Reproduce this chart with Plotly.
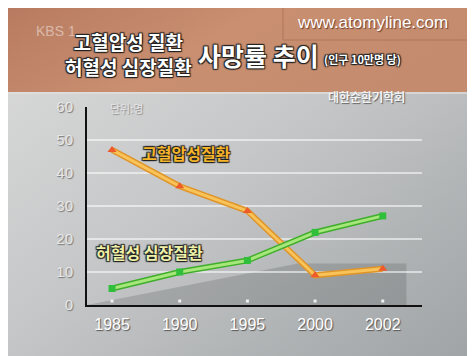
import base64
import plotly.graph_objects as go

# ---- data ----
years = ["1985", "1990", "1995", "2000", "2002"]
hypertension = [47, 36, 28.5, 9, 11]      # 고혈압성질환
ischemic = [5, 10, 13.5, 22, 27]          # 허혈성 심장질환
y_ticks = [0, 10, 20, 30, 40, 50, 60]

W, H = 475, 356
L, R, T, B = 79, 414, 99, 297  # plot area in pixels
PW, PH = R - L, B - T


def px(x, y):
    return (x - L) / PW, (B - y) / PH


# background as svg image
svg = f'''<svg xmlns="http://www.w3.org/2000/svg" width="{W}" height="{H}" viewBox="0 0 {W} {H}">
<defs>
<linearGradient id="ban" x1="0" y1="0" x2="1" y2="0.3">
<stop offset="0" stop-color="#b87b61"/><stop offset="0.5" stop-color="#c98f70"/><stop offset="1" stop-color="#c48b6e"/>
</linearGradient>
<linearGradient id="gr" x1="0" y1="0" x2="1" y2="1">
<stop offset="0" stop-color="#dcdcdc"/><stop offset="0.45" stop-color="#c6c7c8"/><stop offset="1" stop-color="#9da2a4"/>
</linearGradient>
</defs>
<rect x="0" y="0" width="{W}" height="{H}" fill="url(#gr)"/>
<rect x="0" y="0" width="{W}" height="84" fill="url(#ban)"/>
<rect x="0" y="84" width="{W}" height="2" fill="#e6e2de" opacity="0.6"/>
<path d="M275 0 L275 32 L475 32" stroke="#a86e56" stroke-width="1" fill="none" opacity="0.7"/>
<rect x="471" y="0" width="4" height="{H}" fill="#111"/>
</svg>'''
src = "data:image/svg+xml;base64," + base64.b64encode(svg.encode()).decode()

fig = go.Figure()

# hypertension line (glow + core)
fig.add_trace(go.Scatter(x=years, y=hypertension, mode="lines",
                         line=dict(color="#e0952a", width=6), hoverinfo="skip", showlegend=False))
fig.add_trace(go.Scatter(x=years, y=hypertension, mode="lines+markers",
                         line=dict(color="#f8c45a", width=3),
                         marker=dict(symbol="triangle-up", size=8, color="#ee5a2a"),
                         showlegend=False))
# ischemic line
fig.add_trace(go.Scatter(x=years, y=ischemic, mode="lines",
                         line=dict(color="#3fae2c", width=6), hoverinfo="skip", showlegend=False))
fig.add_trace(go.Scatter(x=years, y=ischemic, mode="lines+markers",
                         line=dict(color="#a6e67a", width=3),
                         marker=dict(symbol="square", size=7, color="#2fbf3a"),
                         showlegend=False))
# small tick dots on x axis
fig.add_trace(go.Scatter(x=years, y=[1.2] * len(years), mode="markers",
                         marker=dict(symbol="square", size=3, color="#f0f0f0"),
                         hoverinfo="skip", showlegend=False))

shadow = "1px 1px 1px #222, -1px -1px 1px #222, 1px -1px 1px #222, -1px 1px 1px #222"

anns = []


def ann(text, x, y, size, color, family="Noto Sans CJK KR", bold=False, sh="none"):
    xp, yp = px(x, y)
    anns.append(dict(text=(f"<b>{text}</b>" if bold else text), x=xp, y=yp,
                     xref="paper", yref="paper", showarrow=False,
                     xanchor="center", yanchor="middle", align="center",
                     font=dict(size=size, color=color, family=family, shadow=sh)))


ann("KBS 1", 48, 23, 14, "rgba(255,255,255,0.45)", family="Liberation Sans")
ann("www.atomyline.com", 364, 15, 17, "#ffffff", family="Liberation Sans", sh="1px 1px 1px #6a4030")
ann("고혈압성 질환<br>허혈성 심장질환", 120, 46, 19, "#ffffff", bold=True, sh=shadow)
ann("사망률 추이", 250, 47, 25, "#ffffff", bold=True, sh=shadow)
ann("(인구 10만명 당)", 354, 51, 11, "#ffffff", bold=True, sh=shadow)
ann("대한순환기학회", 358, 88, 12, "#f2f2f2", bold=True, sh="1px 1px 1px #666")
ann("단위:명", 118, 100, 11, "#e4e4e4", sh="1px 1px 1px #888")
ann("고혈압성질환", 178, 145, 16, "#f6b428", bold=True, sh=shadow)
ann("허혈성 심장질환", 141, 244, 16, "#eef0a8", bold=True, sh=shadow)

shapes = [
    dict(type="path", xref="x", yref="y",
         path="M -0.37 0 L 2.75 12.6 L 4.35 12.6 L 4.35 0 Z",
         fillcolor="rgba(70,72,74,0.22)", line=dict(width=0), layer="below"),
]

fig.update_layout(
    width=W, height=H,
    margin=dict(l=L, r=W - R, t=T, b=H - B, pad=0),
    paper_bgcolor="#c4c5c6",
    plot_bgcolor="rgba(0,0,0,0)",
    images=[dict(source=src, xref="paper", yref="paper",
                 x=-L / PW, y=1 + T / PH, sizex=W / PW, sizey=H / PH,
                 sizing="stretch", xanchor="left", yanchor="top", layer="below")],
    annotations=anns,
    shapes=shapes,
    xaxis=dict(type="category", range=[-0.37, 4.58], showgrid=False,
               showline=True, linecolor="#111", linewidth=2,
               ticks="", tickfont=dict(size=16, color="#ffffff", family="Liberation Sans",
                                      shadow="1px 1px 1px #555"),
               ticklabelstandoff=4, zeroline=False, fixedrange=True),
    yaxis=dict(range=[0, 60], tickvals=y_ticks, showgrid=True,
               gridcolor="rgba(255,255,255,0.55)", gridwidth=1.5,
               showline=True, linecolor="#111", linewidth=2,
               ticks="", tickfont=dict(size=15, color="#e8e8e8", family="Liberation Sans",
                                      shadow="1px 1px 1px #777"),
               ticklabelstandoff=9, zeroline=False, fixedrange=True),
)

fig.write_html("out.html")
